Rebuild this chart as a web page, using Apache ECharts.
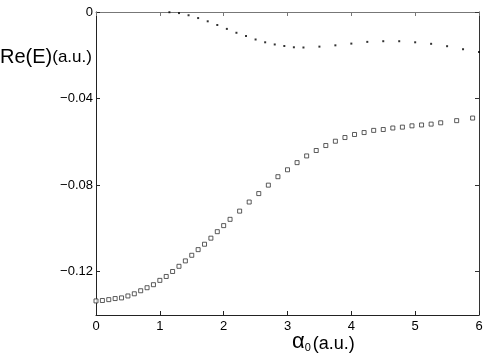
<!DOCTYPE html>
<html>
<head>
<meta charset="utf-8">
<script src="https://cdn.jsdelivr.net/npm/echarts@6/dist/echarts.min.js"></script>
<style>
html,body{margin:0;padding:0;background:#fff;}
#chart{width:488px;height:355px;}
</style>
</head>
<body>
<div id="chart"></div>
<script>
// Upper branch (small dots)
var dotX = [1.15,1.3,1.45,1.6,1.75,1.9,2.05,2.2,2.35,2.5,2.65,2.8,2.95,3.1,3.25,3.5,3.75,4.0,4.25,4.5,4.75,5.0,5.25,5.5,5.75,6.0];
var dotY = [-0.0001,-0.0005,-0.0015,-0.0028,-0.0043,-0.0060,-0.0078,-0.0096,-0.0111,-0.0127,-0.0140,-0.0150,-0.0157,-0.0163,-0.0164,-0.0160,-0.0154,-0.0146,-0.0138,-0.0135,-0.0135,-0.0140,-0.0147,-0.0158,-0.0172,-0.0185];
// Lower branch (open squares)
var sqX = [0,0.1,0.2,0.3,0.4,0.5,0.6,0.7,0.8,0.9,1.0,1.1,1.2,1.3,1.4,1.5,1.6,1.7,1.8,1.9,2.0,2.1,2.25,2.4,2.55,2.7,2.85,3.0,3.15,3.3,3.45,3.6,3.75,3.9,4.05,4.2,4.35,4.5,4.65,4.8,4.95,5.1,5.25,5.4,5.65,5.9];
var sqY = [-0.1335,-0.1333,-0.1329,-0.1324,-0.1321,-0.1312,-0.1302,-0.1288,-0.1274,-0.1260,-0.1240,-0.1222,-0.1199,-0.1175,-0.1150,-0.1124,-0.1098,-0.1073,-0.1045,-0.1015,-0.0987,-0.0958,-0.0920,-0.0878,-0.0839,-0.0800,-0.0761,-0.0729,-0.0696,-0.0665,-0.0640,-0.0617,-0.0597,-0.0580,-0.0566,-0.0557,-0.0547,-0.0543,-0.0536,-0.0532,-0.0526,-0.0522,-0.0518,-0.0512,-0.0502,-0.0490];
// Tick labels
var xTickValues = [0,1,2,3,4,5,6];
var xTickLabels = ['0','1','2','3','4','5','6'];
var yTickValues = [-0.12,-0.08,-0.04,0];
var yTickLabels = ['\u22120.12','\u22120.08','\u22120.04','0'];

function zip(a,b){var r=[];for(var i=0;i<a.length;i++)r.push([a[i],b[i]]);return r;}

var FONT = '"Liberation Sans", Arial, Helvetica, sans-serif';
var chart = echarts.init(document.getElementById('chart'), null, {renderer:'canvas'});

function axisBase(color){
  return {
    axisLine:{show:true, onZero:false, lineStyle:{color:color, width:1}},
    axisTick:{show:true, inside:true, length:4, lineStyle:{color:color}},
    splitLine:{show:false}
  };
}

var option = {
  animation:false,
  backgroundColor:'#fff',
  grid:{left:96, right:9, top:12, bottom:40, containLabel:false},
  xAxis:[
    Object.assign(axisBase('#222'), {
      type:'value', min:0, max:6, interval:1, position:'bottom',
      axisLabel:{show:true, margin:5, color:'#000', fontSize:13, fontFamily:FONT,
        formatter:function(v){var i=xTickValues.indexOf(v);return i>=0?xTickLabels[i]:'';}}
    }),
    Object.assign(axisBase('#777'), {
      type:'value', min:0, max:6, interval:1, position:'top',
      axisLabel:{show:false}
    })
  ],
  yAxis:[
    Object.assign(axisBase('#222'), {
      type:'value', min:-0.14, max:0, position:'left',
      axisTick:{show:true, inside:true, length:4, lineStyle:{color:'#222'}, customValues:yTickValues},
      axisLabel:{show:true, margin:3, color:'#000', fontSize:13, fontFamily:FONT, customValues:yTickValues,
        formatter:function(v){for(var i=0;i<yTickValues.length;i++){if(Math.abs(v-yTickValues[i])<1e-9)return yTickLabels[i];}return '';}}
    }),
    Object.assign(axisBase('#333'), {
      type:'value', min:-0.14, max:0, position:'right',
      axisTick:{show:true, inside:true, length:4, lineStyle:{color:'#333'}, customValues:yTickValues},
      axisLabel:{show:false, customValues:yTickValues}
    })
  ],
  graphic:[
    {type:'text', left:0, top:47, style:{
      text:'{a|Re(E)}{b|(a.u.)}', fill:'#000',
      rich:{a:{fontSize:20, fontFamily:FONT, fill:'#000', verticalAlign:'bottom'}, b:{fontSize:17, fontFamily:FONT, fill:'#000', verticalAlign:'bottom', padding:[0,0,1,0]}}
    }},
    {type:'text', left:292, top:331, style:{
      text:'{a|\u03b1}{s|0}{b|(a.u.)}', fill:'#000',
      rich:{a:{fontSize:22, fontFamily:FONT, fill:'#000', verticalAlign:'bottom'}, s:{fontSize:11, fontFamily:FONT, fill:'#000', verticalAlign:'bottom', padding:[0,2,0,0]}, b:{fontSize:18, fontFamily:FONT, fill:'#000', verticalAlign:'bottom'}}
    }}
  ],
  series:[
    {type:'scatter', xAxisIndex:0, yAxisIndex:0, data:zip(dotX,dotY), symbol:'rect', symbolSize:2,
      itemStyle:{color:'#000'}, clip:false},
    {type:'scatter', xAxisIndex:0, yAxisIndex:0, data:zip(sqX,sqY), symbol:'rect', symbolSize:4,
      itemStyle:{color:'#fff', borderColor:'#333', borderWidth:1}, clip:false}
  ]
};
chart.setOption(option);
</script>
</body>
</html>
